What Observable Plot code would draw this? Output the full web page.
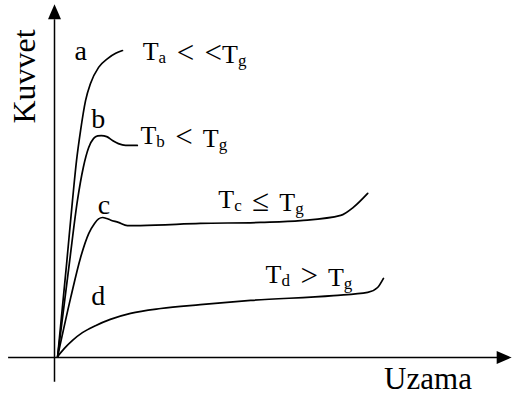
<!DOCTYPE html>
<html>
<head>
<meta charset="utf-8">
<script src="https://cdn.jsdelivr.net/npm/d3@7"></script>
<script src="https://cdn.jsdelivr.net/npm/@observablehq/plot@0.6"></script>
<style>
  html, body { margin: 0; padding: 0; background: #fff; }
  svg { display: block; }
</style>
</head>
<body>
<div id="chart"></div>
<script>
// Curves (Uzama = x, Kuvvet = y), schematic units 0..100
const curveA_x = [0.7, 2.7, 4.0, 4.9, 5.8, 6.9, 8.0, 9.8, 11.8, 13.6, 15.1];
const curveA_y = [0.3, 26.9, 44.9, 56.3, 64.9, 73.4, 78.3, 82.9, 85.4, 86.9, 87.7];
const curveB_x = [0.7, 3.3, 5.1, 6.4, 7.6, 8.7, 9.6, 10.4, 11.6, 12.9, 14.2, 15.8, 18.4];
const curveB_y = [0.3, 26.9, 44.9, 54.3, 60.0, 62.6, 63.3, 63.4, 63.1, 62.0, 61.1, 60.6, 60.6];
const curveC_x = [0.7, 3.6, 5.8, 7.6, 8.9, 9.8, 10.7, 11.6, 12.4, 14.2, 16.2, 19.1, 32.4, 45.8, 54.7, 63.6, 66.4, 69.6];
const curveC_y = [0.3, 17.1, 28.6, 35.4, 38.3, 39.6, 40.0, 39.7, 39.3, 38.6, 37.7, 37.7, 38.3, 38.6, 39.1, 40.6, 42.9, 46.9];
const curveD_x = [0.7, 2.2, 4.0, 6.2, 9.1, 12.4, 16.9, 23.6, 32.4, 43.6, 62.0, 69.6, 71.8, 73.1];
const curveD_y = [0.3, 2.6, 4.9, 7.1, 9.1, 10.9, 12.6, 14.0, 15.1, 16.3, 17.7, 18.6, 20.0, 22.6];

// Curve letters
const letterNames = ["a", "b", "c", "d"];
const letterX = [5.8, 9.7, 11.0, 9.7];
const letterY = [85.1, 65.7, 41.1, 14.9];

// Temperature labels ("_" marks a subscript character)
const tempLabels = ["T_a < <T_g", "T_b < T_g", "T_c \u2264 T_g", "T_d > T_g"];
const tempX = [19.6, 19.1, 36.4, 46.9];
const tempY = [84.9, 61.1, 42.6, 21.4];

// Axis titles
const yTitle = "Kuvvet";
const xTitle = "Uzama";

// Axis extents
const xAxisFrom = -10.2, xAxisTo = 99.0, xAxisTip = 101.6;
const yAxisFrom = -7.1, yAxisTo = 96.5, yAxisTip = 100.9;

const toPts = (xs, ys, id) => xs.map((x, i) => ({x, y: ys[i], id}));
const curves = [
  ...toPts(curveA_x, curveA_y, "a"),
  ...toPts(curveB_x, curveB_y, "b"),
  ...toPts(curveC_x, curveC_y, "c"),
  ...toPts(curveD_x, curveD_y, "d")
];
const letters = letterNames.map((t, i) => ({t, x: letterX[i], y: letterY[i]}));
const temps = tempLabels.map((t, i) => ({t, x: tempX[i], y: tempY[i]}));

// Filled arrowhead symbol with its tip at the anchor point, pointing up
const arrowHead = {
  draw(ctx) {
    ctx.moveTo(0, 0);
    ctx.lineTo(6.5, 15);
    ctx.lineTo(-6.5, 15);
    ctx.closePath();
  }
};

const serif = "'Liberation Serif', 'Times New Roman', serif";

const chart = Plot.plot({
  width: 512,
  height: 395,
  marginLeft: 54,
  marginRight: 8,
  marginTop: 7,
  marginBottom: 38,
  x: {axis: null, domain: [0, 100]},
  y: {axis: null, domain: [0, 100]},
  style: {background: "#fff", fontFamily: serif},
  marks: [
    // axes
    Plot.ruleX([0], {y1: yAxisFrom, y2: yAxisTo, stroke: "#000", strokeWidth: 1.5}),
    Plot.ruleY([0], {x1: xAxisFrom, x2: xAxisTo, stroke: "#000", strokeWidth: 1.5}),
    Plot.dot([{x: 0, y: yAxisTip}], {x: "x", y: "y", symbol: arrowHead, fill: "#000", stroke: null, r: 5}),
    Plot.dot([{x: xAxisTip, y: 0}], {x: "x", y: "y", symbol: arrowHead, fill: "#000", stroke: null, r: 5, rotate: 90}),
    // curves
    Plot.line(curves, {x: "x", y: "y", z: "id", curve: "monotone-x", stroke: "#000", strokeWidth: 1.7}),
    // letters
    Plot.text(letters, {x: "x", y: "y", text: "t", textAnchor: "middle", lineAnchor: "bottom", fontSize: 28, fill: "#000", fontFamily: serif}),
    // temperature labels
    Plot.text(temps, {x: "x", y: "y", text: "t", textAnchor: "start", lineAnchor: "bottom", fontSize: 26, fill: "#000", fontFamily: serif}),
    // axis titles
    Plot.text([{t: yTitle, x: -6.7, y: 80.3}], {x: "x", y: "y", text: "t", rotate: -90, textAnchor: "middle", lineAnchor: "middle", fontSize: 32, fill: "#000", fontFamily: serif}),
    Plot.text([{t: xTitle, x: 83, y: -8.9}], {x: "x", y: "y", text: "t", textAnchor: "middle", lineAnchor: "bottom", fontSize: 31, fill: "#000", fontFamily: serif})
  ]
});

// Turn "_x" into subscript tspans and enlarge relation signs
const ns = "http://www.w3.org/2000/svg";
chart.querySelectorAll("text").forEach(el => {
  const s = el.textContent;
  if (!s.includes("_")) return;
  el.textContent = "";
  el.setAttribute("word-spacing", "4");
  let i = 0, buf = "";
  const add = (txt, attrs) => {
    const t = document.createElementNS(ns, "tspan");
    t.textContent = txt;
    for (const k in attrs) t.setAttribute(k, attrs[k]);
    el.appendChild(t);
  };
  const flush = () => { if (buf) { add(buf, {}); buf = ""; } };
  while (i < s.length) {
    const ch = s[i];
    if (ch === "_" && i + 1 < s.length) {
      flush();
      add(s[i + 1], {"font-size": "17", dy: "3"});
      add("", {dy: "-3"});
      i += 2;
    } else if (ch === "<" || ch === ">" || ch === "\u2264") {
      flush();
      add(ch, {"font-size": "31"});
      i++;
    } else {
      buf += ch;
      i++;
    }
  }
  flush();
});

document.getElementById("chart").appendChild(chart);
</script>
</body>
</html>
